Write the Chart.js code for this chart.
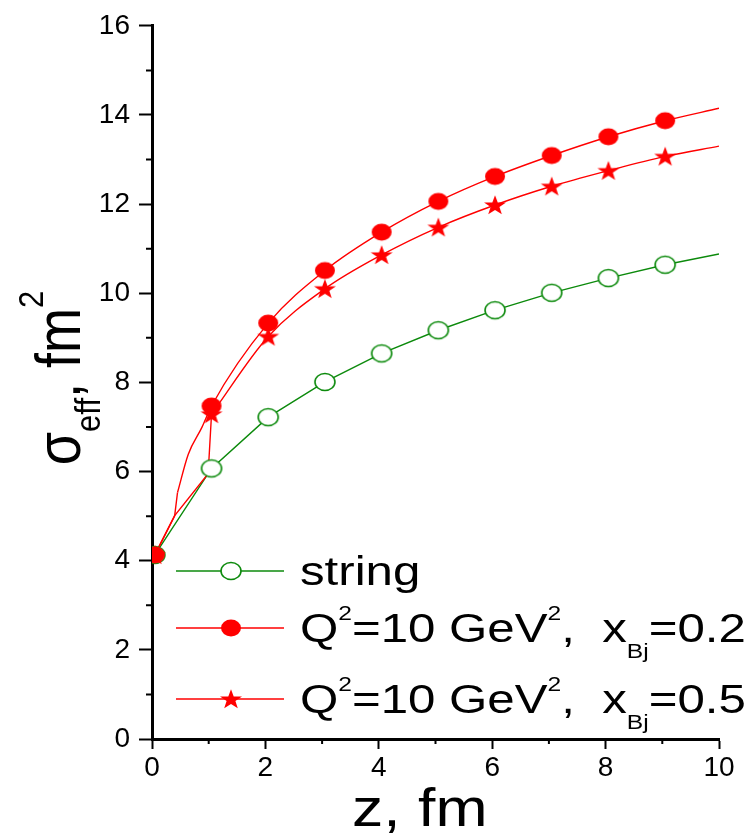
<!DOCTYPE html>
<html>
<head>
<meta charset="utf-8">
<script src="https://cdn.jsdelivr.net/npm/chart.js@4.4.1/dist/chart.umd.min.js"></script>
<style>
  html, body { margin: 0; padding: 0; background: #fff; }
  canvas { display: block; }
</style>
</head>
<body>
<canvas id="chart" width="753" height="833"></canvas>
<script>
// marker positions along z (fm) and sigma_eff (fm^2)
const zMarks     = [0.05, 1.05, 2.05, 3.05, 4.05, 5.05, 6.05, 7.05, 8.05, 9.05];
const stringVals = [4.13, 6.07, 7.22, 8.01, 8.65, 9.17, 9.62, 10.01, 10.34, 10.64];
const q02Vals    = [4.13, 7.47, 9.33, 10.51, 11.37, 12.06, 12.62, 13.09, 13.51, 13.87];
const q05Vals    = [4.13, 7.29, 9.03, 10.10, 10.86, 11.48, 11.98, 12.40, 12.75, 13.07];

// the thin curves drawn under the markers
const stringLineZ = [0.05, 1.05, 2.05, 3.05, 4.05, 5.05, 6.05, 7.05, 8.05, 9.05, 10];
const stringLineY = [4.13, 6.07, 7.22, 8.01, 8.65, 9.17, 9.62, 10.01, 10.34, 10.64, 10.88];
const q02EarlyZ = [0.05, 0.40, 0.45];
const q02EarlyY = [4.13, 5.01, 5.53];
const q02CurveZ = [0.45, 0.64, 0.88, 1.05, 2.05, 3.05, 4.05, 5.05, 6.05, 7.05, 8.05, 9.05, 10];
const q02CurveY = [5.53, 6.39, 6.99, 7.47, 9.33, 10.51, 11.37, 12.06, 12.62, 13.09, 13.51, 13.87, 14.15];
const q05EarlyZ = [0.05, 0.40, 0.99, 1.05];
const q05EarlyY = [4.13, 5.01, 5.95, 7.29];
const q05CurveZ = [1.05, 2.05, 3.05, 4.05, 5.05, 6.05, 7.05, 8.05, 9.05, 10];
const q05CurveY = [7.29, 9.03, 10.10, 10.86, 11.48, 11.98, 12.40, 12.75, 13.07, 13.30];

// legend texts, split in pieces for super/subscripts
const stringLabel = [['string', 0]];
const q02Label = [['Q', 0], ['2', 'sup'], ['=10 GeV', 0], ['2', 'sup'], [',  x', 0], ['Bj', 'sub'], ['=0.2', 0]];
const q05Label = [['Q', 0], ['2', 'sup'], ['=10 GeV', 0], ['2', 'sup'], [',  x', 0], ['Bj', 'sub'], ['=0.5', 0]];

const RED = '#ff0000';
const GREEN = '#0c8a0c';
const FONT = "'Liberation Sans', Arial, sans-serif";

function pts(xs, ys) {
  return xs.map((x, i) => ({ x: x, y: ys[i] }));
}

function makeMarker(kind) {
  const c = document.createElement('canvas');
  c.width = 24; c.height = 22;
  const g = c.getContext('2d');
  g.translate(12, 11);
  if (kind === 'star') {
    g.scale(1.1, 1);
    g.beginPath();
    for (let i = 0; i < 10; i++) {
      const r = i % 2 ? 4.2 : 10.5;
      const a = -Math.PI / 2 + i * Math.PI / 5;
      g.lineTo(r * Math.cos(a), r * Math.sin(a) + 0.8);
    }
    g.closePath();
    g.fillStyle = RED;
    g.fill();
  } else {
    g.beginPath();
    g.ellipse(0, 0, 10, 8.5, 0, 0, Math.PI * 2);
    if (kind === 'open') {
      g.fillStyle = '#fff'; g.fill();
      g.lineWidth = 1.6; g.strokeStyle = GREEN; g.stroke();
    } else {
      g.fillStyle = RED; g.fill();
    }
  }
  return c;
}

const dotImg = makeMarker('dot');
const starImg = makeMarker('star');
const openImg = makeMarker('open');

// draws a piece-wise label (super/subscripts), returns its width
function richText(ctx, parts, size, small) {
  let cx = 0;
  parts.forEach(function (p) {
    const txt = p[0], kind = p[1];
    const fs = kind ? small.size : size;
    const dy = kind === 'sup' ? small.sup : (kind === 'sub' ? small.sub : 0);
    ctx.font = fs + 'px ' + FONT;
    ctx.fillText(txt, cx, dy);
    cx += ctx.measureText(txt).width;
  });
  return cx;
}

function textWidth(ctx, parts, size, small) {
  let w = 0;
  parts.forEach(function (p) {
    ctx.font = (p[1] ? small.size : size) + 'px ' + FONT;
    w += ctx.measureText(p[0]).width;
  });
  return w;
}

const decor = {
  id: 'decor',
  afterDraw(chart) {
    const ctx = chart.ctx;
    const a = chart.chartArea;
    const xs = chart.scales.x, ys = chart.scales.y;
    ctx.save();
    // minor ticks
    ctx.strokeStyle = '#000';
    ctx.lineWidth = 2;
    ctx.beginPath();
    for (let v = 1; v < 16; v += 2) {
      const py = ys.getPixelForValue(v);
      ctx.moveTo(a.left - 6, py); ctx.lineTo(a.left, py);
    }
    for (let v = 1; v < 10; v += 2) {
      const px = xs.getPixelForValue(v);
      ctx.moveTo(px, a.bottom); ctx.lineTo(px, a.bottom + 5);
    }
    ctx.stroke();

    // legend
    const rows = [
      { parts: stringLabel, color: GREEN, img: openImg, y: 571, base: 585 },
      { parts: q02Label, color: RED, img: dotImg, y: 628, base: 642 },
      { parts: q05Label, color: RED, img: starImg, y: 699, base: 713 }
    ];
    const small = { size: 20, sup: -22, sub: 16 };
    rows.forEach(function (r) {
      ctx.strokeStyle = r.color;
      ctx.lineWidth = 1.5;
      ctx.beginPath();
      ctx.moveTo(176, r.y); ctx.lineTo(284, r.y);
      ctx.stroke();
      ctx.drawImage(r.img, 231 - r.img.width / 2, r.y - r.img.height / 2);
      ctx.save();
      ctx.fillStyle = '#000';
      ctx.textBaseline = 'alphabetic';
      ctx.translate(300, r.base);
      ctx.scale(1.23, 1);
      richText(ctx, r.parts, 40, small);
      ctx.restore();
    });

    // x title
    ctx.save();
    ctx.fillStyle = '#000';
    ctx.textBaseline = 'alphabetic';
    ctx.translate(352, 826);
    ctx.scale(1.18, 1);
    richText(ctx, [['z, fm', 0]], 53, { size: 30, sup: 0, sub: 0 });
    ctx.restore();

    // y title
    const yParts = [['\u03c3', 0], ['eff', 'sub'], [',', 0], [' fm', 0], ['2', 'sup']];
    const ySmall = { size: 31, sup: -32, sub: 17 };
    ctx.save();
    ctx.fillStyle = '#000';
    ctx.textBaseline = 'alphabetic';
    const w = textWidth(ctx, yParts, 54, ySmall);
    ctx.translate(80, 378 + w / 2);
    ctx.rotate(-Math.PI / 2);
    ctx.scale(1, 1.16);
    richText(ctx, yParts, 54, ySmall);
    ctx.restore();

    ctx.restore();
  }
};

Chart.defaults.font.family = FONT;
Chart.defaults.color = '#000';

new Chart(document.getElementById('chart'), {
  type: 'scatter',
  data: {
    datasets: [
      { label: 'q02 marks', data: pts(zMarks, q02Vals), pointStyle: dotImg, showLine: false },
      { label: 'q05 marks', data: pts(zMarks, q05Vals), pointStyle: starImg, showLine: false },
      { label: 'string marks', data: pts(zMarks, stringVals), pointStyle: openImg, showLine: false },
      { label: 'q02 early', data: pts(q02EarlyZ, q02EarlyY), showLine: true, pointRadius: 0,
        borderColor: RED, borderWidth: 1.4, tension: 0 },
      { label: 'q02 curve', data: pts(q02CurveZ, q02CurveY), showLine: true, pointRadius: 0,
        borderColor: RED, borderWidth: 1.4, cubicInterpolationMode: 'monotone' },
      { label: 'q05 early', data: pts(q05EarlyZ, q05EarlyY), showLine: true, pointRadius: 0,
        borderColor: RED, borderWidth: 1.4, tension: 0 },
      { label: 'q05 curve', data: pts(q05CurveZ, q05CurveY), showLine: true, pointRadius: 0,
        borderColor: RED, borderWidth: 1.4, cubicInterpolationMode: 'monotone' },
      { label: 'string line', data: pts(stringLineZ, stringLineY), showLine: true, pointRadius: 0,
        borderColor: GREEN, borderWidth: 1.4, tension: 0 }
    ]
  },
  options: {
    responsive: false,
    animation: false,
    devicePixelRatio: 1,
    layout: { padding: { left: 0, top: 24, right: 34, bottom: 0 } },
    plugins: { legend: { display: false }, tooltip: { enabled: false } },
    elements: { point: { radius: 10, hoverRadius: 10 } },
    scales: {
      x: {
        type: 'linear', min: 0, max: 10,
        ticks: { stepSize: 2, font: { size: 28 }, padding: 2, maxRotation: 0 },
        grid: { drawOnChartArea: false, drawTicks: true, tickLength: 10, tickWidth: 2, color: '#000' },
        border: { display: true, width: 3, color: '#000' },
        afterFit: function (s) { s.height = 94; }
      },
      y: {
        type: 'linear', min: 0, max: 16,
        ticks: { stepSize: 2, font: { size: 28 }, padding: 9 },
        grid: { drawOnChartArea: false, drawTicks: true, tickLength: 13, tickWidth: 2, color: '#000' },
        border: { display: true, width: 3, color: '#000' },
        afterFit: function (s) { s.width = 152; }
      }
    }
  },
  plugins: [decor]
});
</script>
</body>
</html>
